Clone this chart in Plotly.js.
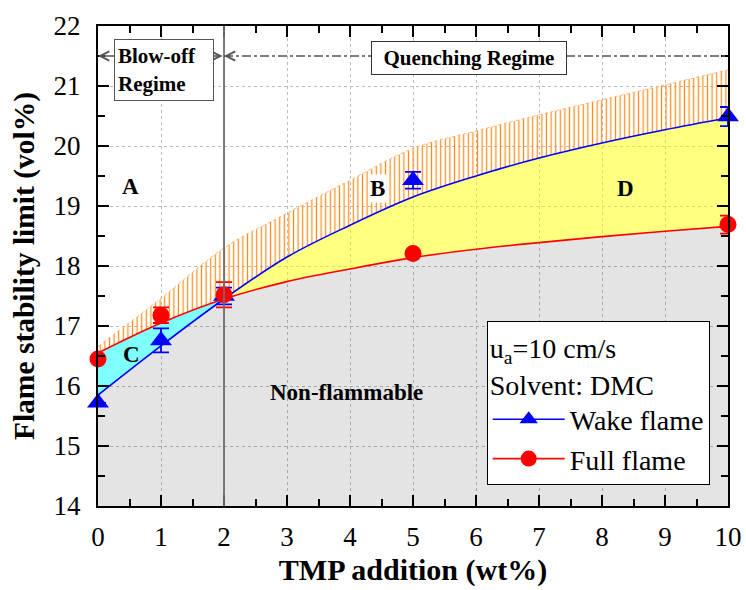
<!DOCTYPE html>
<html>
<head>
<meta charset="utf-8">
<script src="https://cdn.plot.ly/plotly-3.0.1.min.js"></script>
<style>html,body{margin:0;padding:0;background:#fff;}#chart{width:746px;height:590px;}</style>
</head>
<body>
<div id="chart"></div>
<script>
// ---- measured data points ----
var tmpX = [0, 1, 2, 5, 10];
var wakeY = [15.72, 16.76, 17.5, 19.43, 20.49];
var wakeErr = [0, 0.2, 0.14, 0.14, 0.16];
var fullY = [16.45, 17.18, 17.52, 18.21, 18.69];
var fullErr = [0, 0.13, 0.21, 0, 0.15];

// ---- fitted curves ----
var fitX = [0, 1, 2, 3, 4, 5, 6, 7, 8, 9, 10];
var wakeFit = [15.85, 16.67, 17.45, 18.15, 18.68, 19.15, 19.5, 19.8, 20.05, 20.27, 20.47];
var fullFit = [16.55, 17.05, 17.45, 17.74, 17.95, 18.14, 18.28, 18.39, 18.49, 18.58, 18.66];
var upperBound = [16.66, 17.46, 18.3, 18.88, 19.43, 19.96, 20.25, 20.52, 20.77, 21.02, 21.27];

var xTicks = [0, 1, 2, 3, 4, 5, 6, 7, 8, 9, 10];
var yTicks = [14, 15, 16, 17, 18, 19, 20, 21, 22];

var serif = 'Liberation Serif, Times New Roman, serif';

var traces = [
  { // grey non-flammable region
    x: fitX, y: fullFit, mode: 'lines', line: {width: 0, shape: 'spline'},
    fill: 'tozeroy', fillcolor: 'rgba(0,0,0,0.105)', showlegend: false, hoverinfo: 'skip'
  },
  { // base for hatch
    x: fitX, y: wakeFit, mode: 'lines', line: {width: 0, shape: 'spline'},
    showlegend: false, hoverinfo: 'skip'
  },
  { // hatched region
    x: fitX, y: upperBound, mode: 'lines',
    line: {width: 1, shape: 'spline', color: 'rgba(255,175,120,0.9)', dash: 'dot'},
    fill: 'tonexty', fillcolor: 'rgba(0,0,0,0)',
    fillpattern: {shape: '|', fgcolor: '#ff8c1a', bgcolor: 'rgba(0,0,0,0)', size: 4.6, solidity: 0.27},
    showlegend: false, hoverinfo: 'skip'
  },
  { // wake flame fitted line
    x: fitX, y: wakeFit, mode: 'lines', line: {width: 1.6, shape: 'spline', color: '#0000ff'},
    showlegend: false, hoverinfo: 'skip'
  },
  { // full flame fitted line, region between curves
    x: fitX, y: fullFit, mode: 'lines', line: {width: 1.6, shape: 'spline', color: '#ff0000'},
    fill: 'tonexty',
    fillgradient: {type: 'horizontal', start: 0, stop: 10,
      colorscale: [[0, 'rgb(128,255,255)'], [0.2, 'rgb(128,255,255)'], [0.2, 'rgba(255,255,0,0.5)'], [1, 'rgba(255,255,0,0.5)']]},
    showlegend: false, hoverinfo: 'skip'
  },
  { // wake flame points
    x: tmpX, y: wakeY, mode: 'markers', cliponaxis: false,
    marker: {symbol: 'triangle-up', size: 19, color: '#0000ff'},
    error_y: {type: 'data', array: wakeErr, visible: true, color: '#0000ff', thickness: 1.8, width: 8},
    showlegend: false
  },
  { // full flame points
    x: tmpX, y: fullY, mode: 'markers', cliponaxis: false,
    marker: {symbol: 'circle', size: 17, color: '#ff0000'},
    error_y: {type: 'data', array: fullErr, visible: true, color: '#ff0000', thickness: 1.8, width: 8},
    showlegend: false
  },
  { // legend entries
    x: [null], y: [null], mode: 'lines+markers', name: 'Wake flame',
    line: {color: '#0000ff', width: 1.6}, marker: {symbol: 'triangle-up', size: 19, color: '#0000ff'}
  },
  {
    x: [null], y: [null], mode: 'lines+markers', name: 'Full flame',
    line: {color: '#ff0000', width: 1.6}, marker: {symbol: 'circle', size: 17, color: '#ff0000'}
  }
];

var axisCommon = {
  showline: true, linewidth: 2, linecolor: '#000', mirror: 'ticks',
  ticks: 'inside', ticklen: 11, tickwidth: 2, tickcolor: '#000',
  showgrid: true, gridcolor: '#bcbcbc', gridwidth: 1, griddash: 'dot',
  zeroline: false,
  tickfont: {family: serif, size: 27, color: '#000'},
  minor: {dtick: 0.5, ticks: 'inside', ticklen: 7, tickwidth: 2, tickcolor: '#000', showgrid: false}
};

var layout = {
  width: 746, height: 590,
  margin: {l: 98, r: 18, t: 26, b: 84},
  paper_bgcolor: '#fff', plot_bgcolor: '#fff',
  font: {family: serif, color: '#000'},
  xaxis: Object.assign({}, axisCommon, {
    range: [0, 10], tickmode: 'array', tickvals: xTicks, ticktext: xTicks.map(String),
    ticklabelstandoff: 6,
    title: {text: '<b>TMP addition (wt%)</b>', font: {family: serif, size: 30, color: '#000'}, standoff: 8}
  }),
  yaxis: Object.assign({}, axisCommon, {
    range: [14, 22], tickmode: 'array', tickvals: yTicks, ticktext: yTicks.map(String),
    ticklabelstandoff: 10,
    title: {text: '<b>Flame stability limit (vol%)</b>', font: {family: serif, size: 29.5, color: '#000'}, standoff: 10}
  }),
  showlegend: true,
  legend: {
    x: 0.617, y: 0.386, xanchor: 'left', yanchor: 'top', traceorder: 'normal',
    bgcolor: '#fff', bordercolor: '#000', borderwidth: 1,
    font: {family: serif, size: 28, color: '#000'},
    itemwidth: 72,
    title: {text: 'u<sub>a</sub>=10 cm/s<br>Solvent: DMC', font: {family: serif, size: 28, color: '#000'}}
  },
  shapes: [
    {type: 'line', xref: 'x', yref: 'paper', x0: 2, x1: 2, y0: 0, y1: 1, layer: 'above',
     line: {color: 'rgba(110,110,110,0.9)', width: 2}},
    {type: 'line', xref: 'x', yref: 'y', x0: 2, x1: 10, y0: 21.5, y1: 21.5, layer: 'above',
     line: {color: '#555', width: 1.6, dash: 'dashdot'}}
  ],
  annotations: [
    {x: 0, y: 21.5, ax: 2, ay: 21.5, xref: 'x', yref: 'y', axref: 'x', ayref: 'y', text: '',
     showarrow: true, arrowhead: 5, startarrowhead: 5, arrowside: 'end+start', arrowsize: 1.4, startarrowsize: 1.4,
     arrowwidth: 1.3, arrowcolor: '#555'},
    {x: 2, y: 21.5, ax: 2.12, ay: 21.5, xref: 'x', yref: 'y', axref: 'x', ayref: 'y', text: '',
     showarrow: true, arrowhead: 5, arrowsize: 1.4, arrowwidth: 1.3, arrowcolor: '#555'},
    {x: 1.05, y: 21.26, xref: 'x', yref: 'y', showarrow: false, align: 'left', valign: 'middle',
     text: '<b>Blow-off<br>Regime</b>', font: {family: serif, size: 21, color: '#000'},
     bgcolor: '#fff', bordercolor: '#555', borderwidth: 1, borderpad: 3, width: 92, height: 54},
    {x: 5.89, y: 21.47, xref: 'x', yref: 'y', showarrow: false,
     text: '<b>Quenching Regime</b>', font: {family: serif, size: 21, color: '#000'},
     bgcolor: '#fff', bordercolor: '#333', borderwidth: 1, borderpad: 3, width: 188, height: 26},
    {x: 0.52, y: 19.32, xref: 'x', yref: 'y', showarrow: false, text: '<b>A</b>', font: {family: serif, size: 23, color: '#000'}},
    {x: 4.44, y: 19.3, xref: 'x', yref: 'y', showarrow: false, text: '<b>B</b>', bgcolor: '#fff', borderpad: 1, font: {family: serif, size: 23, color: '#000'}},
    {x: 0.53, y: 16.52, xref: 'x', yref: 'y', showarrow: false, text: '<b>C</b>', font: {family: serif, size: 23, color: '#000'}},
    {x: 8.37, y: 19.3, xref: 'x', yref: 'y', showarrow: false, text: '<b>D</b>', font: {family: serif, size: 23, color: '#000'}},
    {x: 3.95, y: 15.9, xref: 'x', yref: 'y', showarrow: false, text: '<b>Non-flammable</b>', font: {family: serif, size: 23, color: '#000'}}
  ]
};

Plotly.newPlot('chart', traces, layout, {staticPlot: true, displayModeBar: false});
</script>
</body>
</html>
